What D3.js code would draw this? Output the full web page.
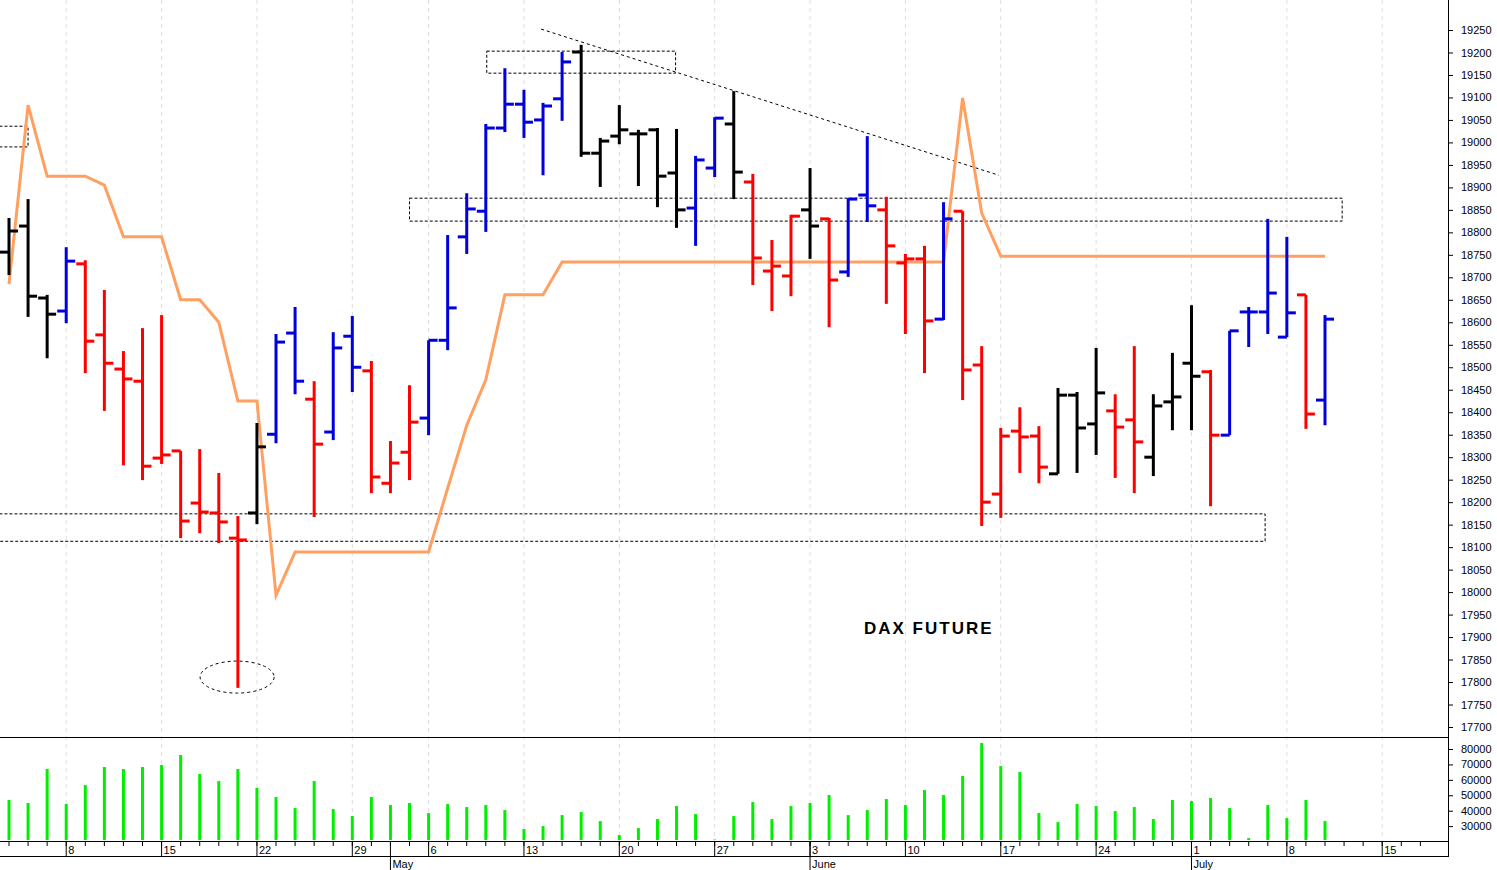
<!DOCTYPE html>
<html lang="en">
<head>
<meta charset="utf-8">
<script src="https://cdn.jsdelivr.net/npm/d3@7"></script>
<style>
body { margin: 0; background: #fff; }
text { font-family: "Liberation Sans", Arial, sans-serif; font-size: 11px; fill: #000; }
</style>
</head>
<body>
<script>
// trading day index 0 = Apr 8; -3 = Apr 3
var idx   = d3.range(-3, 67);
var open  = [18756,18814,18654,18625,18730,18572,18496,18469,18298,18314,18198,18176,18120,18176,18351,18576,18429,18356,18569,18492,18242,18311,18387,18560,18790,18847,19032,19085,19050,19097,19201,18976,19014,19019,19028,18932,18854,18943,19041,18912,18714,18703,18850,18830,18712,18883,18850,18732,18741,18607,18847,18505,18218,18358,18347,18263,18438,18374,18403,18383,18300,18423,18509,18490,18349,18623,18623,18567,18661,18427];
var high  = [18832,18874,18661,18767,18738,18672,18536,18587,18616,18314,18318,18265,18169,18376,18574,18634,18469,18578,18614,18514,18336,18460,18560,18794,18887,19041,19165,19117,19088,19201,19217,19010,19083,19028,19032,19030,18970,19056,19114,18930,18783,18839,18943,18832,18876,19014,18879,18752,18770,18867,18847,18547,18365,18411,18369,18454,18445,18543,18440,18547,18440,18532,18638,18494,18581,18634,18830,18790,18661,18616];
var low   = [18705,18612,18520,18598,18487,18403,18282,18249,18285,18120,18131,18109,17787,18151,18331,18440,18167,18338,18445,18220,18220,18249,18349,18538,18752,18801,19023,19010,18927,19048,18968,18901,18996,18903,18856,18810,18770,18923,18874,18683,18625,18658,18741,18589,18701,18823,18641,18574,18487,18605,18427,18147,18165,18265,18242,18263,18265,18305,18254,18220,18258,18360,18360,18191,18349,18545,18574,18567,18363,18371];
var close = [18803,18658,18618,18736,18558,18509,18474,18280,18305,18158,18178,18156,18116,18323,18556,18469,18329,18543,18500,18256,18287,18378,18560,18632,18852,19032,19085,19045,19081,19179,18976,19003,19028,19019,18925,18850,18961,19054,18934,18743,18725,18836,18814,18694,18874,18859,18770,18741,18603,18830,18494,18200,18347,18345,18278,18438,18365,18443,18367,18334,18414,18434,18480,18349,18581,18623,18665,18621,18396,18607];
var barColor = "BBBURRRRRRRRRBUURUURRRUUUUUUUUBBBBBBUUBRRRBRUURRRURRRRRBBBRRBBBRUUUURU".split("");
var stopLine = [18685,19083,18925,18925,18925,18905,18790,18790,18790,18650,18650,18600,18425,18425,17993,18089,18089,18089,18089,18089,18089,18089,18089,18231,18371,18472,18661,18661,18661,18734,18734,18734,18734,18734,18734,18734,18734,18734,18734,18734,18734,18734,18734,18734,18734,18734,18734,18734,18734,18734,19099,18843,18747,18747,18747,18747,18747,18747,18747,18747,18747,18747,18747,18747,18747,18747,18747,18747,18747,18747];
var volume = [46900,44950,67000,44300,56600,68300,67000,68300,69600,76100,63800,59200,67000,54700,48850,41700,59200,41050,36500,48850,43650,44950,38450,44300,42350,43650,40400,28100,30000,37150,39100,33250,24200,28700,34550,43000,37800,21300,36500,45600,34550,43000,44950,50150,37150,40400,47550,43650,53400,50150,62500,83900,68950,65050,38450,32600,44300,43000,39750,42350,34550,46900,46250,48200,41700,22250,43650,35200,46900,33250];

var weekTicks  = [0,5,10,15,19,24,29,34,39,44,49,54,59,64,69];
var weekLabels = ["8","15","22","29","6","13","20","27","3","10","17","24","1","8","15"];
var monthStarts = [-5.5, 17, 39, 59];
var monthLabels = ["April","May","June","July"];
var priceTicks = d3.range(17700, 19251, 50);
var volTicks = [30000,40000,50000,60000,70000,80000];

// annotations: [k1, price1, k2, price2]
var boxes = [[22.05,19203,31.95,19154],[18.0,18876,66.9,18825],[-3.5,18174,62.86,18113],[-3.5,19036,-2,18990]];
var trend = [24.9,19252,48.9,18927];

var W = 1497, H = 870;
var svg = d3.select("body").append("svg").attr("width", W).attr("height", H);

var x = d3.scaleLinear().domain([-3, 66]).range([9, 1325]);
var y = d3.scaleLinear().domain([17700, 19250]).range([727, 30]);
var yv = d3.scaleLinear().domain([21000, 80000]).range([840, 749]);
var colors = { B: "#000", U: "#0000dd", R: "#ff0000" };

// weekly grid
svg.selectAll("line.grid").data(weekTicks).enter().append("line")
    .attr("x1", function(d) { return x(d); }).attr("x2", function(d) { return x(d); })
    .attr("y1", 0).attr("y2", 841)
    .attr("stroke", "#ddd").attr("stroke-dasharray", "4,4");

// right axis line and panels
svg.append("line").attr("x1", 1448.5).attr("x2", 1448.5).attr("y1", 0).attr("y2", 857).attr("stroke", "#000");
svg.append("line").attr("x1", 0).attr("x2", 1449).attr("y1", 737.5).attr("y2", 737.5).attr("stroke", "#000");

var ya = svg.append("g").attr("transform", "translate(1448,0)")
    .call(d3.axisRight(y).tickValues(priceTicks).tickSize(5).tickPadding(8).tickFormat(d3.format("d")));
ya.select(".domain").remove();
ya.selectAll("text").style("font-size", "11px");

var va = svg.append("g").attr("transform", "translate(1448,0)")
    .call(d3.axisRight(yv).tickValues(volTicks).tickSize(5).tickPadding(8).tickFormat(d3.format("d")));
va.select(".domain").remove();

// annotations
svg.selectAll("rect.box").data(boxes).enter().append("rect")
    .attr("x", function(d) { return x(d[0]); }).attr("y", function(d) { return y(d[1]); })
    .attr("width", function(d) { return x(d[2]) - x(d[0]); })
    .attr("height", function(d) { return y(d[3]) - y(d[1]); })
    .attr("fill", "none").attr("stroke", "#000").attr("stroke-dasharray", "3,2");
svg.append("line").attr("x1", x(trend[0])).attr("y1", y(trend[1])).attr("x2", x(trend[2])).attr("y2", y(trend[3]))
    .attr("stroke", "#000").attr("stroke-dasharray", "3,3");
svg.append("ellipse").attr("cx", x(8.96)).attr("cy", y(17811)).attr("rx", 37).attr("ry", 16)
    .attr("fill", "none").attr("stroke", "#000").attr("stroke-dasharray", "3,3");

// orange stop line
var line = d3.line().x(function(d, i) { return x(idx[i]); }).y(function(d) { return y(d); });
svg.append("path").datum(stopLine).attr("d", line)
    .attr("fill", "none").attr("stroke", "#ffa060").attr("stroke-width", 3);

// OHLC bars
var bars = svg.selectAll("g.bar").data(idx).enter().append("g").attr("class", "bar")
    .attr("stroke", function(d, i) { return colors[barColor[i]]; }).attr("stroke-width", 3);
bars.append("line").attr("x1", function(d) { return x(d); }).attr("x2", function(d) { return x(d); })
    .attr("y1", function(d, i) { return y(high[i]); }).attr("y2", function(d, i) { return y(low[i]); });
bars.append("line").attr("x1", function(d) { return x(d) - 9; }).attr("x2", function(d) { return x(d); })
    .attr("y1", function(d, i) { return y(open[i]); }).attr("y2", function(d, i) { return y(open[i]); });
bars.append("line").attr("x1", function(d) { return x(d); }).attr("x2", function(d) { return x(d) + 9; })
    .attr("y1", function(d, i) { return y(close[i]); }).attr("y2", function(d, i) { return y(close[i]); });

// volume
svg.selectAll("line.vol").data(idx).enter().append("line")
    .attr("x1", function(d) { return x(d); }).attr("x2", function(d) { return x(d); })
    .attr("y1", 840).attr("y2", function(d, i) { return yv(volume[i]); })
    .attr("stroke", "#00ee00").attr("stroke-width", 3);

// title
svg.append("text").attr("x", 864).attr("y", y(17920)).attr("dy", "0.35em")
    .style("font-size", "17px").style("font-weight", "bold").style("letter-spacing", "2px")
    .text("DAX FUTURE");

// x axis
svg.append("line").attr("x1", 0).attr("x2", 1449).attr("y1", 841.5).attr("y2", 841.5).attr("stroke", "#000");
svg.append("line").attr("x1", 0).attr("x2", 1449).attr("y1", 856.5).attr("y2", 856.5).attr("stroke", "#000");
var allDays = d3.range(-3, 72);
svg.selectAll("line.dtick").data(allDays).enter().append("line")
    .attr("x1", function(d) { return x(d); }).attr("x2", function(d) { return x(d); })
    .attr("y1", 841).attr("y2", 846).attr("stroke", "#000");
svg.selectAll("line.wtick").data(weekTicks).enter().append("line")
    .attr("x1", function(d) { return x(d); }).attr("x2", function(d) { return x(d); })
    .attr("y1", 841).attr("y2", 856).attr("stroke", "#000");
svg.selectAll("text.wl").data(weekTicks).enter().append("text")
    .attr("x", function(d) { return x(d) + 2; }).attr("y", 854)
    .text(function(d, i) { return weekLabels[i]; });
svg.selectAll("line.mtick").data(monthStarts).enter().append("line")
    .attr("x1", function(d) { return x(d); }).attr("x2", function(d) { return x(d); })
    .attr("y1", 841).attr("y2", 870).attr("stroke", "#000");
svg.selectAll("text.ml").data(monthStarts).enter().append("text")
    .attr("x", function(d) { return x(d) + 2; }).attr("y", 868)
    .text(function(d, i) { return monthLabels[i]; });
</script>
</body>
</html>
